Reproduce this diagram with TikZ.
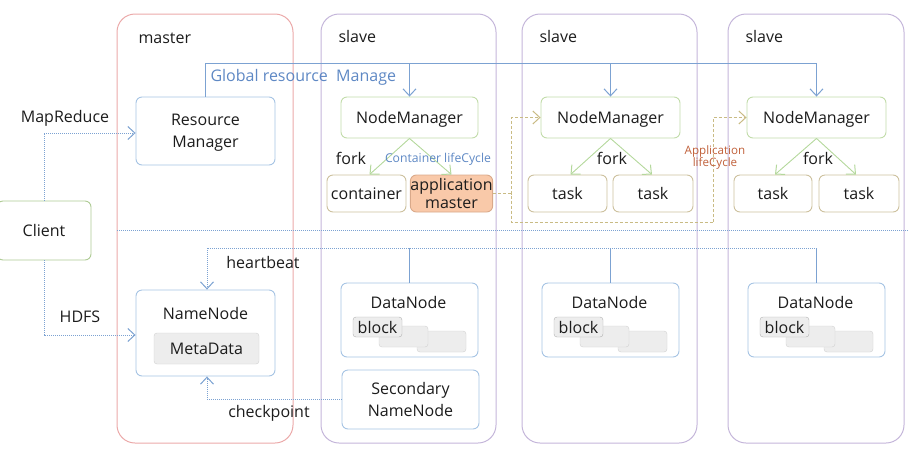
\documentclass[tikz,border=0pt]{standalone}
\usepackage{fontspec}
\setmainfont{Open Sans}
\usetikzlibrary{arrows.meta}
\definecolor{masterc}{HTML}{EBA9A9}
\definecolor{slavec}{HTML}{C4B6DA}
\definecolor{boxblue}{HTML}{A6C4E4}
\definecolor{boxgreen}{HTML}{C2DCAA}
\definecolor{clientg}{HTML}{AECB94}
\definecolor{tan}{HTML}{CDC19E}
\definecolor{amfill}{HTML}{F9C9A9}
\definecolor{amdraw}{HTML}{D9A98A}
\definecolor{lineblue}{HTML}{7CA2D2}
\definecolor{dashc}{HTML}{C9BB84}
\definecolor{forkg}{HTML}{B4D89C}
\definecolor{txt}{HTML}{1C1C1C}
\definecolor{lblue}{HTML}{5E88C4}
\definecolor{lbrown}{HTML}{C0603A}
\definecolor{grayf}{HTML}{EDEDED}
\definecolor{grayd}{HTML}{D2D2D2}
\begin{document}
\begin{tikzpicture}[x=1pt,y=-1pt,
  font=\fontsize{16}{18}\selectfont, text=txt,
  every node/.append style={text depth=0pt},
  group/.style={draw=#1, line width=1pt, rounded corners=18pt, inner sep=0pt},
  boxx/.style={draw=#1, line width=0.9pt, rounded corners=6pt, inner sep=0pt, align=center, fill=white},
  blk/.style={draw=grayd, fill=grayf, rounded corners=3pt, minimum width=49pt, minimum height=21pt, inner sep=0pt},
  tip/.style={-{Straight Barb[length=7pt,width=13pt,line width=1pt]}},
  glob/.style={draw=lineblue, line width=1pt},
  dotl/.style={draw=lineblue, line width=1pt, densely dotted},
  fk/.style={draw=forkg, line width=0.9pt, tip},
  appl/.style={draw=dashc, line width=1pt, dash pattern=on 3pt off 2pt},
  small/.style={font=\fontsize{12.2}{13}\selectfont}
]
\useasboundingbox (0,0) rectangle (908,448);
% groups
\node[group=masterc, minimum width=176pt, minimum height=429pt] (master) at (205,228.5) {};
\node[group=slavec, minimum width=175pt, minimum height=429pt] (slave1) at (408.5,228.5) {};
\node[group=slavec, minimum width=175pt, minimum height=429pt] (slave2) at (609.5,228.5) {};
\node[group=slavec, minimum width=176pt, minimum height=429pt] (slave3) at (816,228.5) {};
\node[anchor=west] (masterl) at (135,38) {master};
\node[anchor=west] (slave1l) at (335,36) {slave};
\node[anchor=west] (slave2l) at (536,36) {slave};
\node[anchor=west] (slave3l) at (742,36) {slave};
% separator
\coordinate (sepL) at (117,230);
\coordinate (sepR) at (908,230);
\draw[dotl] (sepL) -- (sepR);
% client
\node[boxx=clientg, minimum width=94pt, minimum height=59pt] (client) at (44,230.5) {Client};
% yarn
\node[boxx=boxblue, minimum width=139pt, minimum height=68pt] (RM) at (205.5,131) {Resource\\[4pt]Manager};
\node[boxx=boxgreen, minimum width=137pt, minimum height=41pt] (NM1) at (409.5,117.5) {NodeManager};
\node[boxx=boxgreen, minimum width=139pt, minimum height=41pt] (NM2) at (610.5,117.5) {NodeManager};
\node[boxx=boxgreen, minimum width=139pt, minimum height=41pt] (NM3) at (816.5,117.5) {NodeManager};
\node[boxx=tan, minimum width=79pt, minimum height=37pt] (cont) at (366.5,193.5) {container};
\node[boxx=amdraw, fill=amfill, minimum width=81pt, minimum height=37pt] (AM) at (451.5,193.5) {application\\[0pt]master};
\node[boxx=tan, minimum width=79pt, minimum height=37pt] (t2a) at (567.5,193.5) {task};
\node[boxx=tan, minimum width=80pt, minimum height=37pt] (t2b) at (653,193.5) {task};
\node[boxx=tan, minimum width=78pt, minimum height=37pt] (t3a) at (773,193.5) {task};
\node[boxx=tan, minimum width=80pt, minimum height=37pt] (t3b) at (859,193.5) {task};
% global resource manage
\coordinate (gl) at (206,63);
\draw[glob] (RM.north) |- (gl -| NM3.north);
\draw[glob,tip] (gl -| NM3.north) -- (NM3.north);
\draw[glob,tip] (gl -| NM1.north) -- (NM1.north);
\draw[glob,tip] (gl -| NM2.north) -- (NM2.north);
\node[anchor=west, text=lblue] (globl) at (207,75) {Global resource\ \ Manage};
% forks
\draw[fk] (NM1.south) -- ([xshift=3pt]cont.north);
\draw[fk] (NM1.south) -- (AM.north);
\draw[fk] (NM2.south) -- ([xshift=3pt]t2a.north);
\draw[fk] (NM2.south) -- ([xshift=-1pt]t2b.north);
\draw[fk] (NM3.south) -- ([xshift=2pt]t3a.north);
\draw[fk] (NM3.south) -- ([xshift=-3pt]t3b.north);
\node (fork1) at (351,158) {fork};
\node (fork2) at (612,158) {fork};
\node (fork3) at (818,158) {fork};
\node[small, text=lblue] (clc) at (438,158) {Container\ lifeCycle};
% application lifecycle
\coordinate (al1) at (511,222);
\coordinate (al2) at (713,222);
\draw[appl] (AM.east) -| (al1) -- (al2);
\draw[appl,tip] (al2) |- (NM3.west);
\draw[appl,tip] (AM.east -| al1) |- (NM2.west);
\node[text=lbrown, align=center, font=\fontsize{11.6}{12}\selectfont] (alc) at (715,156) {Application\\lifeCycle};
% hdfs
\node[boxx=boxblue, minimum width=139pt, minimum height=86pt] (NN) at (205.5,333) {};
\node (NNt) at (205.5,313) {NameNode};
\node[draw=grayd, fill=grayf, rounded corners=3pt, minimum width=105pt, minimum height=31pt, inner sep=0pt] (meta) at (206.5,348.5) {MetaData};
\node[boxx=boxblue, minimum width=137pt, minimum height=59pt] (SNN) at (410.5,399.5) {Secondary\\[4pt]NameNode};
\foreach \n/\cx in {DN1/409.5, DN2/610.5, DN3/816.5}{
  \node[boxx=boxblue, minimum width=137pt, minimum height=74pt] (\n) at (\cx,320) {};
  \node (\n t) at (\cx-1,302) {DataNode};
  \node[blk] (\n b3) at (\cx+32,341.5) {};
  \node[blk] (\n b2) at (\cx-6,336.5) {};
  \node[blk, minimum height=20pt, draw=grayd!85!black] (\n b1) at (\cx-32,327) {block};
}
% client connectors
\draw[dotl,tip] (client.north) |- ([yshift=-2pt]RM.west);
\draw[dotl,tip] (client.south) |- ([yshift=-2pt]NN.west);
\node (mrl) at (65,116) {MapReduce};
\node (hdfsl) at (80,317) {HDFS};
% heartbeat
\coordinate (hb) at (207,248);
\draw[dotl] (hb -| DN3.north) -- (hb);
\draw[dotl,tip] (hb) -- (hb |- NN.north);
\draw[glob] (DN1.north) -- (DN1.north |- hb);
\draw[glob] (DN2.north) -- (DN2.north |- hb);
\draw[glob] (DN3.north) -- (DN3.north |- hb);
\node (hbl) at (263,262) {heartbeat};
% checkpoint
\draw[dotl,tip] (SNN.west) -| ([xshift=1.5pt]NN.south);
\node (cpl) at (269,411) {checkpoint};
\end{tikzpicture}
\end{document}
